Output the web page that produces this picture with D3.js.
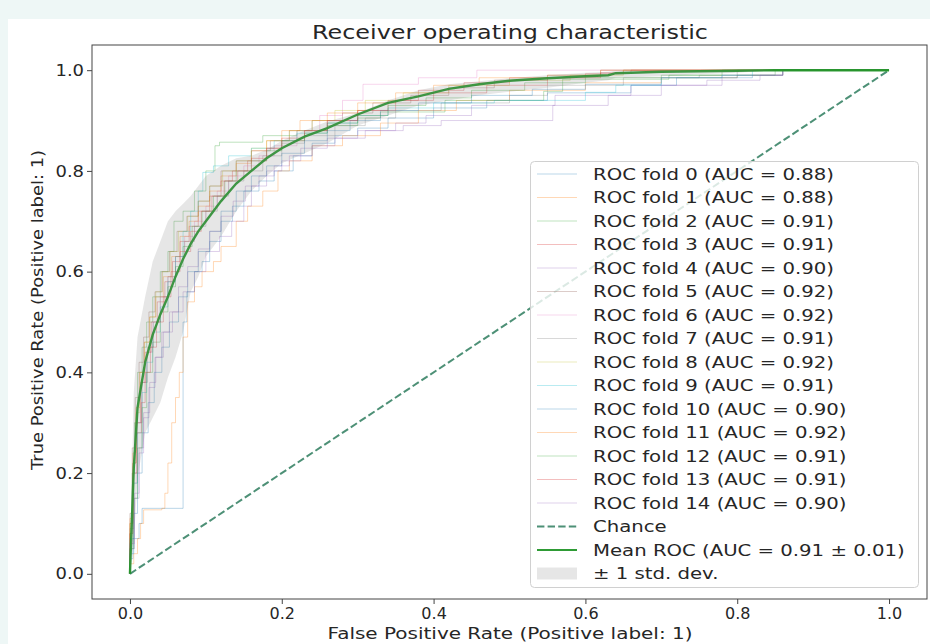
<!DOCTYPE html>
<html>
<head>
<meta charset="utf-8">
<script src="https://cdn.jsdelivr.net/npm/d3@7"></script>
<style>
  body { margin: 0; background: #eef7f6; }
  svg { display: block; }
  text { font-family: "DejaVu Sans", sans-serif; fill: #262626; }
</style>
</head>
<body>
<script>
/** Data */
const foldAUC = ["0.88", "0.88", "0.91", "0.91", "0.90", "0.92", "0.92", "0.91",
                 "0.92", "0.91", "0.90", "0.92", "0.91", "0.91", "0.90"];

// each fold: top of every vertical step [fpr, tpr], drawn with a step-after curve
const foldRoc = [
  [[0,0.03],[0.004,0.07],[0.012,0.1],[0.016,0.13],[0.07,0.5],[0.075,0.56],[0.085,0.6],[0.095,0.62],[0.105,0.66],[0.12,0.7],[0.135,0.73],[0.15,0.76],[0.17,0.78],[0.19,0.8],[0.215,0.83],[0.24,0.855],[0.27,0.87],[0.3,0.885],[0.34,0.905],[0.4,0.925],[0.47,0.94],[0.55,0.955],[0.66,0.97],[0.72,0.985],[0.82,0.99],[0.86,1],[1,1]],
  [[0,0.02],[0.005,0.04],[0.01,0.07],[0.014,0.1],[0.018,0.127],[0.042,0.13],[0.046,0.16],[0.05,0.22],[0.055,0.3],[0.06,0.35],[0.065,0.4],[0.07,0.47],[0.076,0.54],[0.085,0.57],[0.095,0.6],[0.11,0.62],[0.12,0.65],[0.14,0.7],[0.155,0.73],[0.175,0.76],[0.195,0.8],[0.21,0.82],[0.24,0.85],[0.28,0.87],[0.33,0.895],[0.38,0.92],[0.43,0.94],[0.5,0.96],[0.6,0.975],[0.7,0.985],[0.8,0.99],[0.86,1],[1,1]],
  [[0,0.08],[0.003,0.2],[0.006,0.3],[0.01,0.4],[0.016,0.45],[0.022,0.5],[0.03,0.55],[0.04,0.6],[0.05,0.64],[0.058,0.7],[0.07,0.72],[0.085,0.76],[0.1,0.8],[0.112,0.85],[0.118,0.857],[0.175,0.87],[0.22,0.88],[0.26,0.895],[0.3,0.905],[0.33,0.917],[0.415,0.94],[0.545,0.958],[0.57,0.982],[0.71,0.99],[0.85,1],[1,1]],
  [[0,0.1],[0.004,0.22],[0.008,0.3],[0.014,0.38],[0.02,0.44],[0.028,0.5],[0.036,0.54],[0.046,0.58],[0.056,0.62],[0.066,0.66],[0.078,0.69],[0.09,0.72],[0.105,0.75],[0.12,0.78],[0.135,0.8],[0.155,0.82],[0.18,0.845],[0.2,0.86],[0.23,0.88],[0.26,0.9],[0.3,0.92],[0.34,0.94],[0.38,0.96],[0.44,0.975],[0.5,0.985],[0.6,0.993],[0.65,1],[1,1]],
  [[0,0.05],[0.006,0.15],[0.012,0.25],[0.018,0.32],[0.026,0.38],[0.034,0.43],[0.044,0.48],[0.056,0.52],[0.07,0.56],[0.085,0.6],[0.1,0.64],[0.118,0.67],[0.134,0.7],[0.15,0.73],[0.16,0.77],[0.18,0.8],[0.2,0.82],[0.225,0.845],[0.26,0.865],[0.3,0.88],[0.35,0.895],[0.39,0.91],[0.45,0.93],[0.56,0.95],[0.66,0.97],[0.78,0.99],[0.86,1],[1,1]],
  [[0,0.12],[0.003,0.25],[0.007,0.35],[0.012,0.42],[0.018,0.47],[0.025,0.52],[0.033,0.56],[0.042,0.6],[0.052,0.64],[0.062,0.68],[0.075,0.71],[0.09,0.74],[0.105,0.77],[0.12,0.8],[0.14,0.82],[0.16,0.84],[0.185,0.86],[0.21,0.88],[0.24,0.9],[0.28,0.915],[0.32,0.935],[0.37,0.95],[0.42,0.965],[0.48,0.98],[0.55,0.99],[0.62,1],[1,1]],
  [[0,0.06],[0.004,0.18],[0.009,0.3],[0.015,0.38],[0.022,0.44],[0.03,0.5],[0.04,0.55],[0.05,0.59],[0.06,0.63],[0.072,0.67],[0.085,0.7],[0.1,0.73],[0.115,0.76],[0.13,0.79],[0.15,0.81],[0.17,0.83],[0.19,0.85],[0.22,0.88],[0.25,0.91],[0.28,0.94],[0.307,0.972],[0.38,0.985],[0.457,1],[1,1]],
  [[0,0.09],[0.005,0.2],[0.01,0.3],[0.016,0.38],[0.023,0.45],[0.031,0.5],[0.04,0.55],[0.05,0.59],[0.06,0.63],[0.072,0.66],[0.085,0.69],[0.1,0.72],[0.115,0.75],[0.13,0.78],[0.15,0.8],[0.175,0.83],[0.2,0.855],[0.23,0.87],[0.27,0.89],[0.31,0.905],[0.35,0.92],[0.41,0.935],[0.5,0.95],[0.55,0.97],[0.65,0.985],[0.75,0.99],[0.8,1],[1,1]],
  [[0,0.1],[0.004,0.22],[0.008,0.32],[0.013,0.4],[0.019,0.46],[0.026,0.51],[0.034,0.56],[0.043,0.6],[0.053,0.64],[0.064,0.68],[0.076,0.71],[0.09,0.74],[0.105,0.77],[0.122,0.8],[0.14,0.82],[0.16,0.845],[0.18,0.86],[0.21,0.88],[0.24,0.9],[0.27,0.92],[0.31,0.94],[0.36,0.955],[0.42,0.97],[0.5,0.98],[0.58,0.99],[0.65,1],[1,1]],
  [[0,0.07],[0.005,0.18],[0.01,0.28],[0.016,0.36],[0.022,0.42],[0.03,0.48],[0.04,0.53],[0.05,0.58],[0.06,0.63],[0.07,0.68],[0.08,0.72],[0.09,0.76],[0.096,0.797],[0.11,0.81],[0.13,0.83],[0.16,0.845],[0.19,0.86],[0.22,0.875],[0.26,0.895],[0.3,0.91],[0.34,0.925],[0.4,0.935],[0.48,0.94],[0.6,0.956],[0.64,0.97],[0.7,0.985],[0.78,0.99],[0.82,1],[1,1]],
  [[0,0.04],[0.005,0.12],[0.01,0.2],[0.016,0.28],[0.024,0.34],[0.032,0.4],[0.042,0.45],[0.052,0.5],[0.064,0.55],[0.076,0.6],[0.09,0.64],[0.105,0.68],[0.12,0.72],[0.14,0.76],[0.16,0.79],[0.18,0.81],[0.2,0.835],[0.23,0.86],[0.26,0.88],[0.29,0.9],[0.33,0.92],[0.38,0.935],[0.45,0.95],[0.53,0.962],[0.6,0.972],[0.7,0.985],[0.8,0.99],[0.86,1],[1,1]],
  [[0,0.11],[0.004,0.24],[0.008,0.33],[0.013,0.4],[0.019,0.46],[0.026,0.51],[0.034,0.55],[0.044,0.59],[0.055,0.63],[0.066,0.67],[0.078,0.7],[0.09,0.73],[0.105,0.76],[0.12,0.79],[0.14,0.815],[0.16,0.84],[0.18,0.86],[0.2,0.88],[0.224,0.9],[0.26,0.915],[0.3,0.935],[0.35,0.955],[0.4,0.97],[0.46,0.985],[0.55,0.99],[0.62,1],[1,1]],
  [[0,0.05],[0.005,0.15],[0.01,0.25],[0.016,0.33],[0.022,0.4],[0.03,0.46],[0.04,0.52],[0.05,0.57],[0.06,0.61],[0.07,0.65],[0.082,0.69],[0.095,0.72],[0.11,0.75],[0.125,0.78],[0.14,0.8],[0.16,0.82],[0.18,0.84],[0.2,0.86],[0.23,0.875],[0.26,0.89],[0.3,0.91],[0.34,0.93],[0.39,0.945],[0.45,0.96],[0.52,0.975],[0.6,0.985],[0.7,0.99],[0.78,1],[1,1]],
  [[0,0.08],[0.004,0.2],[0.009,0.28],[0.015,0.34],[0.02,0.4],[0.027,0.45],[0.035,0.5],[0.044,0.55],[0.054,0.6],[0.066,0.64],[0.08,0.68],[0.094,0.72],[0.108,0.75],[0.124,0.78],[0.142,0.8],[0.16,0.825],[0.18,0.845],[0.2,0.865],[0.23,0.88],[0.26,0.9],[0.3,0.92],[0.35,0.94],[0.4,0.955],[0.47,0.97],[0.55,0.985],[0.62,0.995],[0.66,1],[1,1]],
  [[0,0.06],[0.006,0.16],[0.012,0.24],[0.018,0.31],[0.025,0.37],[0.033,0.43],[0.042,0.48],[0.052,0.52],[0.064,0.57],[0.076,0.61],[0.09,0.645],[0.105,0.68],[0.12,0.71],[0.136,0.74],[0.152,0.77],[0.17,0.79],[0.19,0.81],[0.21,0.83],[0.24,0.85],[0.27,0.865],[0.31,0.88],[0.36,0.89],[0.41,0.9],[0.557,0.93],[0.63,0.95],[0.7,0.97],[0.76,0.98],[0.83,0.99],[0.86,1],[1,1]]
];

// mean ROC and +/- 1 std band, on a common fpr grid
const meanFpr = [0, 0.005, 0.01, 0.02, 0.03, 0.04, 0.05, 0.06, 0.07, 0.08, 0.09, 0.10, 0.12, 0.14, 0.16, 0.18, 0.20, 0.23, 0.26, 0.30,
                 0.34, 0.38, 0.42, 0.46, 0.50, 0.55, 0.60, 0.63, 0.64, 0.70, 0.75, 0.80, 0.85, 0.90, 1.0];
const meanTpr = [0, 0.21, 0.33, 0.42, 0.475, 0.515, 0.55, 0.59, 0.625, 0.655, 0.68, 0.70, 0.74, 0.775, 0.80, 0.825, 0.845, 0.868, 0.885, 0.912,
                 0.935, 0.948, 0.963, 0.972, 0.979, 0.984, 0.988, 0.990, 0.994, 0.997, 0.998, 0.999, 1, 1, 1];
const upperTpr = [0, 0.36, 0.47, 0.55, 0.62, 0.66, 0.70, 0.72, 0.735, 0.75, 0.77, 0.79, 0.81, 0.825, 0.83, 0.842, 0.86, 0.88, 0.898, 0.915,
                  0.94, 0.96, 0.972, 0.978, 0.984, 0.99, 0.995, 0.997, 0.999, 1, 1, 1, 1, 1, 1];
const lowerTpr = [0, 0.06, 0.19, 0.28, 0.31, 0.34, 0.39, 0.43, 0.48, 0.56, 0.59, 0.63, 0.67, 0.72, 0.76, 0.79, 0.815, 0.835, 0.855, 0.89,
                  0.91, 0.93, 0.94, 0.95, 0.957, 0.965, 0.975, 0.98, 0.985, 0.988, 0.992, 0.995, 1, 1, 1];
const meanLabel = "Mean ROC (AUC = 0.91 \u00b1 0.01)";
const stdLabel = "\u00b1 1 std. dev.";
const ticks = [0, 0.2, 0.4, 0.6, 0.8, 1.0];

/** Layout */
const width = 930, height = 644;
const margin = { left: 92, right: 3, top: 45, bottom: 45 };
const tab10 = ["#1f77b4", "#ff7f0e", "#2ca02c", "#d62728", "#9467bd", "#8c564b", "#e377c2", "#7f7f7f", "#bcbd22", "#17becf"];
const chanceColor = "#2e7d5e";
const meanColor = "#23962a";

const svg = d3.select("body").append("svg").attr("width", width).attr("height", height);
svg.append("rect").attr("x", 8).attr("y", 19).attr("width", width - 8).attr("height", height - 19).attr("fill", "#fff");

const x = d3.scaleLinear().domain([-0.05, 1.05]).range([margin.left, width - margin.right]);
const y = d3.scaleLinear().domain([-0.05, 1.05]).range([height - margin.bottom, margin.top]);

const plot = svg.append("g");

// folds
const stepLine = d3.line().x(d => x(d[0])).y(d => y(d[1])).curve(d3.curveStepAfter);
foldRoc.forEach((pts, i) => {
  plot.append("path")
    .attr("d", stepLine([[0, 0]].concat(pts)))
    .attr("fill", "none")
    .attr("stroke", tab10[i % 10])
    .attr("stroke-opacity", 0.3)
    .attr("stroke-width", 1);
});

// chance
plot.append("line")
  .attr("x1", x(0)).attr("y1", y(0)).attr("x2", x(1)).attr("y2", y(1))
  .attr("stroke", chanceColor).attr("stroke-opacity", 0.85)
  .attr("stroke-width", 2).attr("stroke-dasharray", "7.4,3.2");

// mean
const meanLine = d3.line().x((d, i) => x(meanFpr[i])).y(d => y(d));
plot.append("path")
  .attr("d", meanLine(meanTpr))
  .attr("fill", "none").attr("stroke", meanColor).attr("stroke-opacity", 0.95).attr("stroke-width", 2.4);

// std band
const band = d3.area().x((d, i) => x(meanFpr[i])).y0((d, i) => y(lowerTpr[i])).y1(d => y(d));
plot.append("path")
  .attr("d", band(upperTpr))
  .attr("fill", "#808080").attr("fill-opacity", 0.2);

// axes
const xAxis = svg.append("g").attr("transform", `translate(0,${height - margin.bottom})`)
  .call(d3.axisBottom(x).tickValues(ticks).tickFormat(d3.format(".1f")).tickSize(5).tickPadding(4));
const yAxis = svg.append("g").attr("transform", `translate(${margin.left},0)`)
  .call(d3.axisLeft(y).tickValues(ticks).tickFormat(d3.format(".1f")).tickSize(5).tickPadding(3));
[xAxis, yAxis].forEach(a => {
  a.select(".domain").remove();
  a.selectAll("line").attr("stroke", "#444");
  a.selectAll("text").attr("font-size", 16).attr("font-family", "DejaVu Sans").attr("fill", "#262626");
});
// y tick labels are drawn a little wider in the picture
yAxis.selectAll("text").each(function () {
  const w = this.getComputedTextLength();
  d3.select(this).attr("textLength", w * 1.12).attr("lengthAdjust", "spacingAndGlyphs");
});
svg.append("rect")
  .attr("x", margin.left).attr("y", margin.top)
  .attr("width", width - margin.right - margin.left).attr("height", height - margin.bottom - margin.top)
  .attr("fill", "none").attr("stroke", "#444").attr("stroke-width", 1);

// titles
svg.append("text").attr("x", 510).attr("y", 39).attr("text-anchor", "middle")
  .attr("font-size", 20).attr("textLength", 396).attr("lengthAdjust", "spacingAndGlyphs")
  .text("Receiver operating characteristic");
svg.append("text").attr("x", 510).attr("y", 639).attr("text-anchor", "middle")
  .attr("font-size", 16).attr("textLength", 365).attr("lengthAdjust", "spacingAndGlyphs")
  .text("False Positive Rate (Positive label: 1)");
svg.append("text").attr("transform", "translate(43,310) rotate(-90)").attr("text-anchor", "middle")
  .attr("font-size", 16).attr("textLength", 320).attr("lengthAdjust", "spacingAndGlyphs")
  .text("True Positive Rate (Positive label: 1)");

// legend
const legend = svg.append("g");
legend.append("rect").attr("x", 530.5).attr("y", 161.5).attr("width", 388).attr("height", 426)
  .attr("rx", 4).attr("fill", "#fff").attr("fill-opacity", 0.8).attr("stroke", "#d0d0d0");
const rowY = i => 174 + i * 23.5;
const entries = foldAUC.map((a, i) => ({ label: `ROC fold ${i} (AUC = ${a})`, kind: "fold", i }))
  .concat([{ label: "Chance", kind: "chance" }, { label: meanLabel, kind: "mean" }, { label: stdLabel, kind: "std" }]);
entries.forEach((e, r) => {
  const cy = rowY(r);
  if (e.kind === "fold") {
    legend.append("line").attr("x1", 537).attr("x2", 577).attr("y1", cy).attr("y2", cy)
      .attr("stroke", tab10[e.i % 10]).attr("stroke-opacity", 0.3).attr("stroke-width", 1);
  } else if (e.kind === "chance") {
    legend.append("line").attr("x1", 537).attr("x2", 577).attr("y1", cy).attr("y2", cy)
      .attr("stroke", chanceColor).attr("stroke-opacity", 0.85).attr("stroke-width", 2).attr("stroke-dasharray", "7.4,3.2");
  } else if (e.kind === "mean") {
    legend.append("line").attr("x1", 537).attr("x2", 577).attr("y1", cy).attr("y2", cy)
      .attr("stroke", meanColor).attr("stroke-opacity", 0.95).attr("stroke-width", 2);
  } else {
    legend.append("rect").attr("x", 537).attr("y", cy - 6).attr("width", 40).attr("height", 12)
      .attr("fill", "#808080").attr("fill-opacity", 0.2);
  }
  const t = legend.append("text").attr("x", 593).attr("y", cy).attr("dy", "0.36em")
    .attr("font-size", 16).text(e.label);
  const w = t.node().getComputedTextLength();
  t.attr("textLength", w * 1.23).attr("lengthAdjust", "spacingAndGlyphs");
});
</script>
</body>
</html>
